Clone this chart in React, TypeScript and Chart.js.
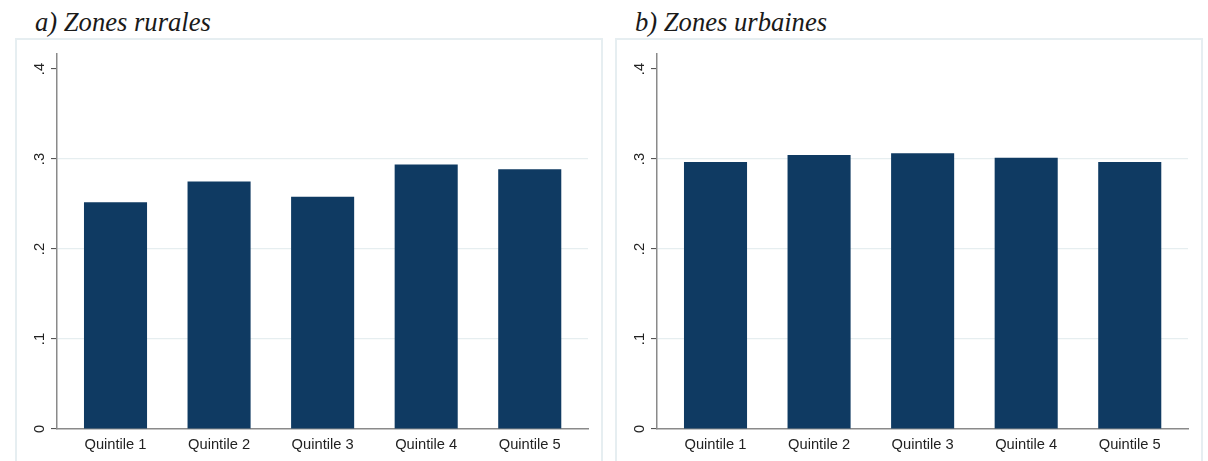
import React, { useEffect, useRef } from "react";
import { Chart, registerables } from "chart.js";

Chart.register(...registerables);

const categories = ["Quintile 1", "Quintile 2", "Quintile 3", "Quintile 4", "Quintile 5"];
const ruralValues = [0.252, 0.275, 0.258, 0.294, 0.2885];
const urbanValues = [0.2967, 0.3044, 0.3063, 0.3014, 0.2967];
const yTickValues = [0, 0.1, 0.2, 0.3, 0.4];
const yTickLabels = ["0", ".1", ".2", ".3", ".4"];
const panelTitles = ["a) Zones rurales", "b) Zones urbaines"];

const BAR_COLOR = "#0f3a62";
const AXIS_COLOR = "#8a8a8a";
const GRID_COLOR = "#e6eef0";
const FRAME_COLOR = "#e6eef1";
const TEXT_COLOR = "#222222";
const SANS = '"Liberation Sans", Arial, sans-serif';

const CANVAS_W = 584;
const CANVAS_H = 421;

function Panel({ values, left }: { values: number[]; left: number }) {
  const ref = useRef<HTMLCanvasElement>(null);
  useEffect(() => {
    const chart = new Chart(ref.current as HTMLCanvasElement, {
      type: "bar",
      data: {
        datasets: [
          {
            data: values.map((v, i) => ({ x: i + 1, y: v })),
            backgroundColor: BAR_COLOR,
            borderWidth: 0,
            barPercentage: 0.609,
            categoryPercentage: 1,
          },
        ],
      },
      options: {
        animation: false,
        responsive: false,
        devicePixelRatio: 1,
        layout: { padding: { left: 0, right: 13, top: 14, bottom: 0 } },
        plugins: { legend: { display: false }, tooltip: { enabled: false } },
        scales: {
          x: {
            type: "linear",
            min: 0.435,
            max: 5.5625,
            offset: false,
            bounds: "data",
            grid: { display: false, drawTicks: false, offset: false },
            border: { color: AXIS_COLOR, width: 1.5 },
            afterBuildTicks: (s: any) => {
              s.ticks = categories.map((_, i) => ({ value: i + 1 }));
            },
            afterFit: (s: any) => {
              s.height = 32;
            },
            ticks: {
              autoSkip: false,
              maxRotation: 0,
              minRotation: 0,
              padding: 7,
              color: TEXT_COLOR,
              font: { family: SANS, size: 14.7 },
              callback: (v: any) => categories[Math.round(Number(v)) - 1] ?? "",
            },
          },
          y: {
            type: "linear",
            min: 0,
            max: 0.41667,
            afterBuildTicks: (s: any) => {
              s.ticks = yTickValues.map((v) => ({ value: v }));
            },
            afterFit: (s: any) => {
              s.width = 40;
            },
            grid: {
              color: (ctx: any) =>
                ctx.tick && (ctx.tick.value <= 0 || ctx.tick.value >= 0.4) ? "rgba(0,0,0,0)" : GRID_COLOR,
              lineWidth: 1.2,
              tickColor: "#444444",
              tickLength: 6,
              tickWidth: 1,
            },
            border: { color: AXIS_COLOR, width: 1.5 },
            ticks: {
              autoSkip: false,
              minRotation: 90,
              maxRotation: 90,
              crossAlign: "center",
              padding: 5,
              color: TEXT_COLOR,
              font: { family: SANS, size: 14.7 },
              callback: (_v: any, i: number) => yTickLabels[i] ?? "",
            },
          },
        },
      },
    } as any);
    return () => chart.destroy();
  }, [values]);

  return (
    <>
      <div
        style={{
          position: "absolute",
          left: left - 2,
          top: 38,
          width: 588,
          height: 460,
          border: `2px solid ${FRAME_COLOR}`,
          boxSizing: "border-box",
        }}
      />
      <canvas
        ref={ref}
        width={CANVAS_W}
        height={CANVAS_H}
        style={{ position: "absolute", left, top: 40, width: CANVAS_W, height: CANVAS_H }}
      />
    </>
  );
}

export default function App() {
  const titleStyle: React.CSSProperties = {
    position: "absolute",
    top: 9,
    fontFamily: '"Liberation Serif", "Times New Roman", serif',
    fontStyle: "italic",
    fontSize: 26.6,
    lineHeight: "26px",
    color: "#1a1a1a",
    whiteSpace: "nowrap",
  };
  return (
    <div
      style={{
        position: "fixed",
        left: 0,
        top: 0,
        width: 1208,
        height: 461,
        background: "#ffffff",
        overflow: "hidden",
      }}
    >
      <div style={{ ...titleStyle, left: 35 }}>{panelTitles[0]}</div>
      <div style={{ ...titleStyle, left: 635 }}>{panelTitles[1]}</div>
      <Panel values={ruralValues} left={17} />
      <Panel values={urbanValues} left={617} />
    </div>
  );
}
